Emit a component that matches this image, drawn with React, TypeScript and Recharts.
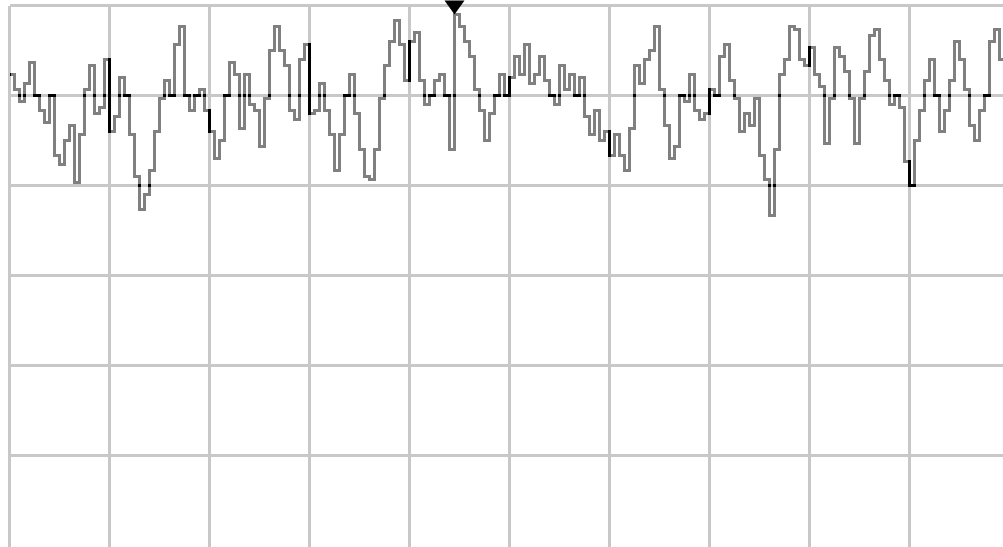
import React from 'react';
import { LineChart, Line, XAxis, YAxis, CartesianGrid, ReferenceDot } from 'recharts';

// one reading every 5px of the trace, zero sits on the second grid line
const values = [
  7, 2, -2, 4, 11, 0, -5, -9, 0, -20,
  -23, -15, -10, -29, -13, 2, 10, -6, -4, 12,
  -12, -7, 6, 0, -13, -27, -38, -33, -25, -12,
  -1, 5, 0, 17, 23, 0, -5, 0, 2, -5,
  -12, -21, -15, 0, 11, 7, -11, 7, -3, -5,
  -17, -1, 15, 23, 15, 10, -5, -8, 12, 17,
  -6, -5, 4, -5, -13, -25, -13, 0, 7, -6,
  -18, -27, -28, -18, -1, 10, 18, 25, 17, 5,
  18, 21, 5, -3, 0, 5, 7, 0, -18, 27,
  23, 18, 13, 2, -5, -15, -6, 0, 7, 0,
  6, 13, 7, 17, 4, 7, 13, 5, 0, -3,
  10, 2, 7, 0, 6, -7, -13, -5, -15, -12,
  -20, -13, -20, -25, -11, 10, 4, 12, 15, 23,
  2, -10, -21, -17, 0, -2, 7, -5, -8, -6,
  2, 0, 13, 17, 5, -1, -12, -6, -10, -1,
  -20, -28, -40, -18, 7, 12, 23, 22, 12, 10,
  16, 7, 3, -16, -1, 16, 13, 8, -1, -16,
  -1, 8, 20, 22, 12, 5, -3, 0, -4, -22,
  -30, -15, -5, 5, 12, 0, -12, -5, 5, 18,
  12, 2, -10, -15, -5, 0, 18, 22, 12, 13,
];

const xTicks = [0, 20, 40, 60, 80, 100, 120, 140, 160, 180, 200];
const yTicks = [30, 0, -30, -60, -90, -120];

const data = values.map((v, i) => ({ i, v }));

const peak = values.reduce((best, v, i) => (v > values[best] ? i : best), 0);

const W = 1010;
const H = 561;
const margin = { top: 5.5, right: 0.5, bottom: 0.5, left: 9.5 };

const Marker = (props: any) => {
  const { cx, cy } = props;
  return <path d={`M${cx - 10},${cy - 14}L${cx + 10},${cy - 14}L${cx},${cy}Z`} fill="#000" />;
};

function Plot({ overlay }: { overlay: boolean }) {
  return (
    <LineChart width={W} height={H} data={data} margin={margin}>
      <CartesianGrid stroke={overlay ? '#ffffff' : '#c8c8c8'} strokeWidth={3} />
      <XAxis dataKey="i" type="number" domain={[0, 200]} ticks={xTicks} hide />
      <YAxis type="number" domain={[-155, 30]} ticks={yTicks} hide />
      <Line
        type="stepAfter"
        dataKey="v"
        stroke={overlay ? '#ffffff' : '#808080'}
        strokeWidth={3}
        dot={false}
        activeDot={false}
        isAnimationActive={false}
      />
      {!overlay && (
        <ReferenceDot x={peak} y={values[peak]} shape={Marker} ifOverflow="visible" />
      )}
    </LineChart>
  );
}

export default function App() {
  return (
    <div style={{ position: 'fixed', left: 0, top: 0, width: 1003, height: 547, overflow: 'hidden', background: '#fff' }}>
      <style>{`
        .recharts-cartesian-grid line, .recharts-line-curve { shape-rendering: crispEdges; }
        .overlay path.recharts-line-curve { mix-blend-mode: difference; }
      `}</style>
      <div style={{ position: 'absolute', left: 0, top: 0 }}>
        <Plot overlay={false} />
      </div>
      <div className="overlay" style={{ position: 'absolute', left: 0, top: 0, mixBlendMode: 'multiply' }}>
        <Plot overlay={true} />
      </div>
    </div>
  );
}
